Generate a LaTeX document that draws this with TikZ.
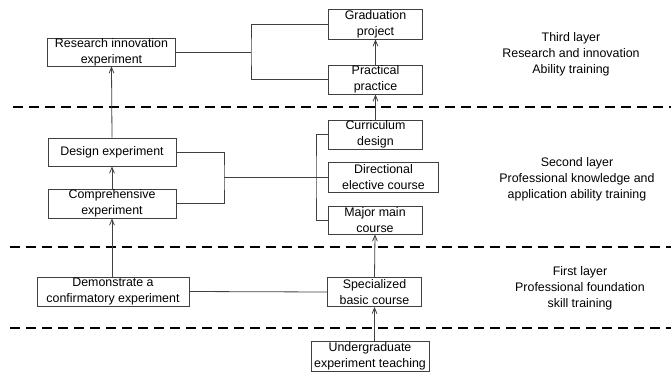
\documentclass[tikz,border=0pt]{standalone}
\usepackage{fontspec}
\setmainfont{Liberation Sans}
\usepackage{tikz}
\usetikzlibrary{arrows}

\begin{document}
\begin{tikzpicture}[x=0.75pt,y=-0.75pt]
            \tikzset{box/.style={draw=black!75, line width=0.7pt, align=center, inner sep=0pt,
                     font=\fontsize{9.3}{12}\selectfont},
                     link/.style={draw=black!75, line width=0.6pt},
                     up/.style={link, ->, >=angle 45},
                     layer/.style={line width=1.1pt, dash pattern=on 7.5pt off 4.5pt},
                     note/.style={align=center, font=\fontsize{9.3}{12}\selectfont}};
            \useasboundingbox (0,0) rectangle (671,372);

            % third layer
            \node[box, minimum width=96pt, minimum height=21pt] (res) at (111.5,52) {Research innovation\\experiment};
            \node[box, minimum width=70pt, minimum height=22.5pt] (grad) at (375.5,24) {Graduation\\project};
            \node[box, minimum width=70pt, minimum height=21.75pt] (prac) at (375.5,79.5) {Practical\\practice};
            \node[note] (third) at (571,54) {Third layer\\Research and innovation\\Ability training};

            % second layer
            \node[box, minimum width=96pt, minimum height=21pt] (design) at (112,152) {Design experiment};
            \node[box, minimum width=96pt, minimum height=21.75pt] (comp) at (112,203.5) {Comprehensive\\experiment};
            \node[box, minimum width=70pt, minimum height=21.75pt] (curr) at (375.5,134.5) {Curriculum\\design};
            \node[box, minimum width=82pt, minimum height=22.5pt] (dir) at (383.5,177) {Directional\\elective course};
            \node[box, minimum width=70.5pt, minimum height=21pt] (major) at (375,220) {Major main\\course};
            \node[note] (second) at (577,179) {Second layer\\Professional knowledge and\\application ability training};

            % first layer
            \node[box, minimum width=114pt, minimum height=21.75pt] (demo) at (113,291.5) {Demonstrate a\\confirmatory experiment};
            \node[box, minimum width=70pt, minimum height=21.75pt] (spec) at (374.5,292) {Specialized\\basic course};
            \node[note] (first) at (580,288) {First layer\\Professional foundation\\skill training};

            \node[box, minimum width=88.5pt, minimum height=22.5pt] (under) at (370,356) {Undergraduate\\experiment teaching};

            % layer borders
            \draw[layer] (13,107) -- (671,107);
            \draw[layer] (10,247) -- (671,247);
            \draw[layer] (10,328) -- (671,328);

            % joints
            \coordinate (jr) at (251,52);
            \coordinate (jl) at (224,177);
            \coordinate (jb) at (316,177);

            \draw[link] (res.east) -- (jr);
            \draw[link] (grad.west) -| (jr) |- (prac.west);
            \draw[link] (design.east) -| (jl) |- (comp.east);
            \draw[link] (jl) -- (dir.west);
            \draw[link] (curr.west) -| (jb) |- (major.west);
            \draw[link] (demo.east) -- (spec.west);

            \draw[up] (demo.north -| comp.south) -- (comp.south);
            \draw[up] (comp.north) -- (design.south);
            \draw[up] (design.north) -- (res.south);
            \draw[up] (under.north -| spec.south) -- (spec.south);
            \draw[up] (spec.north) -- (major.south);
            \draw[up] (curr.north) -- (prac.south);
            \draw[up] (prac.north) -- (grad.south);
        \end{tikzpicture}
\end{document}
